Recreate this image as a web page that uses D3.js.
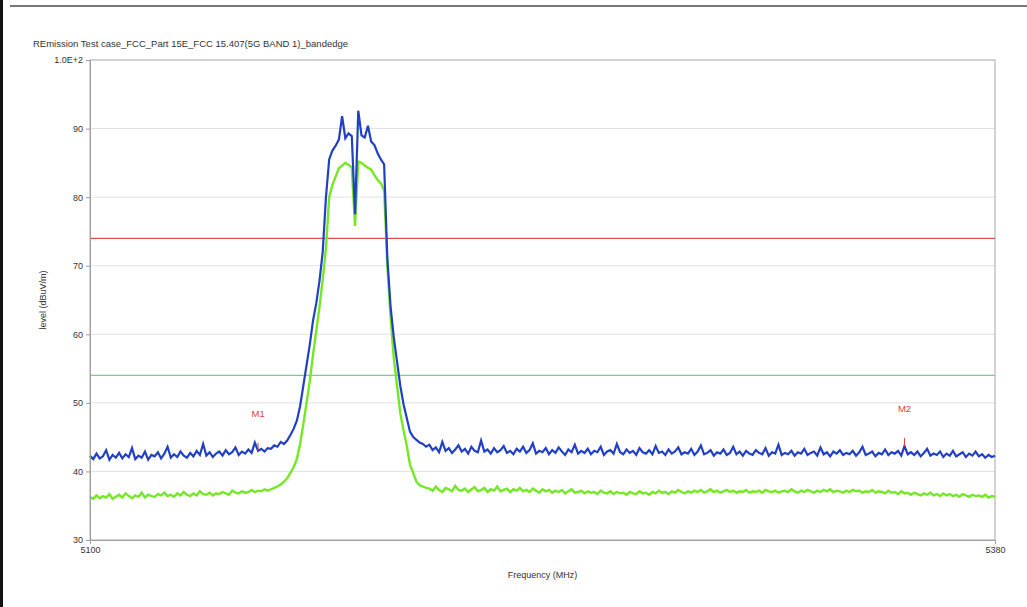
<!DOCTYPE html>
<html>
<head>
<meta charset="utf-8">
<script src="https://cdn.jsdelivr.net/npm/d3@7"></script>
<style>
  body { margin: 0; background: #fff; }
  svg { display: block; font-family: "Liberation Sans", Arial, sans-serif; }
</style>
</head>
<body>
<div id="chart"></div>
<script>
// sweep grid, 1 MHz per point
var freqStart = 5100, freqStop = 5380;

// peak trace (blue), dBuV/m, 5100..5380
var peakLevel = [
  42.3, 41.8, 42.6, 41.9, 42.2, 43.1, 41.7, 42.4, 42.0, 42.7,
  41.9, 42.5, 42.1, 43.4, 41.8, 42.3, 42.0, 42.9, 41.7, 42.4,
  42.2, 42.8, 41.9, 42.6, 43.6, 42.0, 42.5, 42.1, 42.9, 42.3,
  42.0, 42.7, 42.2, 43.0, 42.4, 44.0, 42.3, 42.8, 42.1, 42.6,
  42.9, 42.3, 43.1, 42.5, 42.8, 43.5, 42.4, 42.9, 42.6, 43.2,
  42.7, 44.2, 43.0, 43.3, 42.9, 43.4,
  43.3, 43.8, 43.6, 44.3, 44.0, 44.5, 45.3, 46.2, 47.4, 49.5,
  52.5, 55.5, 58.5, 62.0, 64.5, 67.8, 72.0, 80.0,
  85.5, 86.8, 87.5, 88.4, 91.8, 88.6, 89.3, 88.9, 77.5, 92.6,
  89.0, 88.7, 90.4, 88.1, 87.6, 86.4, 85.5, 84.8,
  71.0, 64.0, 59.5, 56.0, 52.5, 49.8, 47.8, 45.8, 45.0, 44.6,
  44.2, 44.0, 43.6,
  43.9, 43.1, 43.5, 42.8, 44.3, 43.0, 43.4, 42.7, 43.2, 43.8,
  42.9, 43.3, 42.6, 43.6, 43.0, 42.8, 44.5, 42.9, 43.2, 42.6,
  43.4, 42.8, 43.1, 43.7, 42.7, 43.0, 42.5, 43.3, 42.9, 43.6,
  42.7, 43.1, 44.1, 42.6, 43.0, 42.8, 43.4, 42.5, 43.1, 42.7,
  43.5, 42.9, 42.4, 43.2, 42.8, 43.9, 42.6, 43.0, 42.7, 43.3,
  42.5, 43.0, 42.8, 43.6, 42.4, 42.9, 43.1, 42.6, 44.0, 42.8,
  42.5, 43.2, 42.7, 43.0, 42.4, 43.4, 42.8, 42.6, 43.1, 42.5,
  43.7, 42.7, 42.9, 42.4, 43.2, 42.6, 42.9, 43.5, 42.5, 42.8,
  42.6, 43.3, 42.4, 42.9, 43.8, 42.5, 42.7, 43.1, 42.3, 42.8,
  42.6, 43.2, 42.4, 42.7, 43.6, 42.5, 42.9, 42.3, 43.0, 42.6,
  42.4, 43.1, 42.7, 42.5, 43.4, 42.3, 42.8, 42.6, 43.9, 42.4,
  42.7, 42.5, 43.0, 42.3, 42.8, 42.6, 43.3, 42.4, 42.7, 42.9,
  42.3, 43.5, 42.5, 42.8, 42.2, 42.9, 42.6, 43.1, 42.4, 42.7,
  42.5, 43.0, 42.3, 42.8, 43.6, 42.4, 42.6, 42.9, 42.2, 42.7,
  42.5, 43.2, 42.4, 42.8, 42.6, 43.0, 42.3, 43.7, 42.5, 42.8,
  42.4, 42.9, 42.2, 42.7, 43.3, 42.3, 42.6, 42.4, 42.9, 42.1,
  42.6, 42.3, 43.0, 42.2, 42.5, 42.8, 42.1, 42.6, 42.3, 42.9,
  42.2, 42.5, 42.0, 42.4, 42.1, 42.3
];

// average trace (green), dBuV/m, 5100..5380
var avgLevel = [
  36.3, 36.0, 36.5, 36.1, 36.4, 36.2, 36.7, 36.0, 36.3, 36.6,
  36.2, 36.8, 36.4, 36.1, 36.5, 36.3, 36.9, 36.2, 36.6, 36.4,
  36.3, 36.7, 36.5, 36.9, 36.4, 36.6, 36.3, 36.8, 36.5, 37.0,
  36.6, 36.4, 36.8, 36.5, 37.1, 36.7, 36.6, 36.9, 36.5, 36.8,
  36.7, 37.0, 36.8, 36.6, 37.2, 36.9, 36.8, 37.1, 36.9, 37.0,
  37.3, 37.0, 37.2, 37.1, 37.4, 37.2,
  37.4, 37.6, 37.8, 38.1, 38.5, 39.0, 39.8, 40.6, 41.8, 44.0,
  46.9, 50.0, 53.2, 57.0, 60.5, 64.0, 68.0, 72.5,
  80.0, 81.8, 83.0, 84.2, 84.6, 85.0, 84.7, 84.3, 75.8, 85.2,
  85.0, 84.6, 84.3, 84.0, 83.2, 82.5, 82.0, 81.0,
  70.0, 62.5, 56.5, 52.5, 48.5, 46.0, 43.8, 41.0, 39.8, 38.5,
  38.0, 37.8, 37.6,
  37.5, 37.2, 37.8, 37.3, 37.0, 37.6, 37.4, 37.1, 37.9, 37.3,
  37.2, 37.5, 37.0, 37.4, 37.7, 37.1, 37.3, 37.6, 37.0, 37.4,
  37.2, 37.8, 37.1, 37.3, 37.5, 37.0, 37.4, 37.2, 37.6, 37.1,
  37.3, 37.0, 37.5, 37.2, 36.9, 37.4, 37.1, 37.3, 36.9, 37.2,
  37.0, 37.3, 36.8, 37.1, 37.4, 36.9, 37.0, 37.2, 36.8, 37.1,
  36.9, 37.0, 36.7, 37.2, 36.9, 36.8, 37.1, 36.7, 37.0, 36.8,
  36.9, 36.6, 37.0, 36.8, 36.7, 37.1, 36.8, 36.9, 36.6, 37.0,
  36.8, 37.2, 36.9, 37.0, 36.7, 37.1, 36.9, 37.3, 37.0, 36.8,
  37.1, 36.9, 37.2, 37.0, 37.3, 36.9, 37.1, 37.4, 37.0, 37.2,
  36.9, 37.1, 37.3, 37.0, 37.2, 36.9, 37.1, 37.0, 37.3, 36.9,
  37.1, 37.0, 37.2, 36.9, 37.3, 37.1, 37.0, 37.2, 36.9, 37.1,
  37.2, 37.0, 37.4, 37.1, 36.9, 37.2, 37.0, 37.3, 37.1, 36.9,
  37.2, 37.0, 37.3, 37.1, 37.4, 37.0, 37.2, 37.1, 36.9, 37.2,
  37.0, 37.3, 37.1, 37.2, 36.9, 37.1, 37.0, 37.3, 36.9, 37.1,
  37.0, 36.8, 37.2, 36.9, 37.0, 36.7, 37.1, 36.8, 36.9, 36.6,
  36.9, 36.7, 36.5, 36.8, 36.6, 36.9, 36.5, 36.7, 36.4, 36.8,
  36.5, 36.7, 36.4, 36.6, 36.3, 36.7, 36.5, 36.3, 36.6, 36.4,
  36.5, 36.3, 36.6, 36.2, 36.4, 36.3
];

// limit lines
var limitValues = [74, 54];
var limitColors = ["#d65252", "#7dcf80"];

// markers
var markerLabels = ["M1", "M2"];
var markerFreqs = [5152, 5352];

var yTicks = [30, 40, 50, 60, 70, 80, 90, 100];
var xTicks = [5100, 5380];

var titleText = "REmission Test case_FCC_Part 15E_FCC 15.407(5G BAND 1)_bandedge";

var W = 1027, H = 607;
var margin = {top: 60, right: 32, bottom: 67, left: 90};
var width = W - margin.left - margin.right;
var height = H - margin.top - margin.bottom;

var freqs = d3.range(freqStart, freqStop + 1);

var svg = d3.select("#chart").append("svg")
    .attr("width", W)
    .attr("height", H);

// window frame bits
svg.append("rect")
  .attr("x", 0).attr("y", 0)
  .attr("width", 3).attr("height", H)
  .attr("fill", "#111");
svg.append("line")
  .attr("x1", 10).attr("x2", W)
  .attr("y1", 6).attr("y2", 6)
  .attr("stroke", "#777").attr("stroke-width", 2);

svg.append("text")
  .attr("x", 33).attr("y", 47)
  .attr("font-size", "9.5px")
  .attr("fill", "#333")
  .text(titleText);

var g = svg.append("g")
  .attr("transform", "translate(" + margin.left + "," + margin.top + ")");

var x = d3.scaleLinear().domain([freqStart, freqStop]).range([0, width]);
var y = d3.scaleLinear().domain([30, 100]).range([height, 0]);

// grid
g.selectAll(".grid")
  .data(yTicks.filter(function(d) { return d > 30 && d < 100; }))
  .enter().append("line")
  .attr("x1", 0).attr("x2", width)
  .attr("y1", function(d) { return y(d); })
  .attr("y2", function(d) { return y(d); })
  .attr("stroke", "#e2e2e2");

// plot frame
g.append("rect")
  .attr("width", width).attr("height", height)
  .attr("fill", "none")
  .attr("stroke", "#a8a8a8");

// limit lines
g.selectAll(".limit")
  .data(limitValues)
  .enter().append("line")
  .attr("x1", 0).attr("x2", width)
  .attr("y1", function(d) { return y(d); })
  .attr("y2", function(d) { return y(d); })
  .attr("stroke", function(d, i) { return limitColors[i]; })
  .attr("stroke-width", 1.3);

var line = d3.line()
  .x(function(d, i) { return x(freqs[i]); })
  .y(function(d) { return y(d); });

g.append("path")
  .datum(avgLevel)
  .attr("d", line)
  .attr("fill", "none")
  .attr("stroke", "#74e824")
  .attr("stroke-width", 2.4);

g.append("path")
  .datum(peakLevel)
  .attr("d", line)
  .attr("fill", "none")
  .attr("stroke", "#2140c4")
  .attr("stroke-width", 2.2);

// markers on peak trace
markerFreqs.forEach(function(f, i) {
  var v = peakLevel[freqs.indexOf(f)];
  g.append("line")
    .attr("x1", x(f)).attr("x2", x(f))
    .attr("y1", y(v) - 8).attr("y2", y(v))
    .attr("stroke", "#e04040").attr("stroke-width", 1);
  g.append("text")
    .attr("x", x(f)).attr("y", y(v) - 34)
    .attr("text-anchor", "middle")
    .attr("font-size", "9.5px")
    .attr("fill", "#e04040")
    .text(markerLabels[i]);
});

// axes
var yAxis = d3.axisLeft(y)
  .tickValues(yTicks)
  .tickSize(4)
  .tickFormat(function(d) { return d === 100 ? "1.0E+2" : d; });

var yg = g.append("g").call(yAxis);
yg.select(".domain").attr("stroke", "#a0a0a0");
yg.selectAll(".tick line").attr("stroke", "#a0a0a0");
yg.selectAll("text").attr("font-size", "9px").attr("fill", "#333")
  .attr("font-family", "Liberation Sans, Arial, sans-serif");

var xAxis = d3.axisBottom(x)
  .tickValues(xTicks)
  .tickSize(4)
  .tickFormat(d3.format("d"));

var xg = g.append("g")
  .attr("transform", "translate(0," + height + ")")
  .call(xAxis);
xg.select(".domain").attr("stroke", "#a0a0a0");
xg.selectAll(".tick line").attr("stroke", "#a0a0a0");
xg.selectAll("text").attr("font-size", "9px").attr("fill", "#333")
  .attr("font-family", "Liberation Sans, Arial, sans-serif");

g.append("text")
  .attr("x", width / 2)
  .attr("y", height + 38)
  .attr("text-anchor", "middle")
  .attr("font-size", "9px")
  .attr("fill", "#333")
  .text("Frequency (MHz)");

g.append("text")
  .attr("transform", "translate(-44," + height / 2 + ") rotate(-90)")
  .attr("text-anchor", "middle")
  .attr("font-size", "9px")
  .attr("fill", "#333")
  .text("level (dBuV/m)");
</script>
</body>
</html>
